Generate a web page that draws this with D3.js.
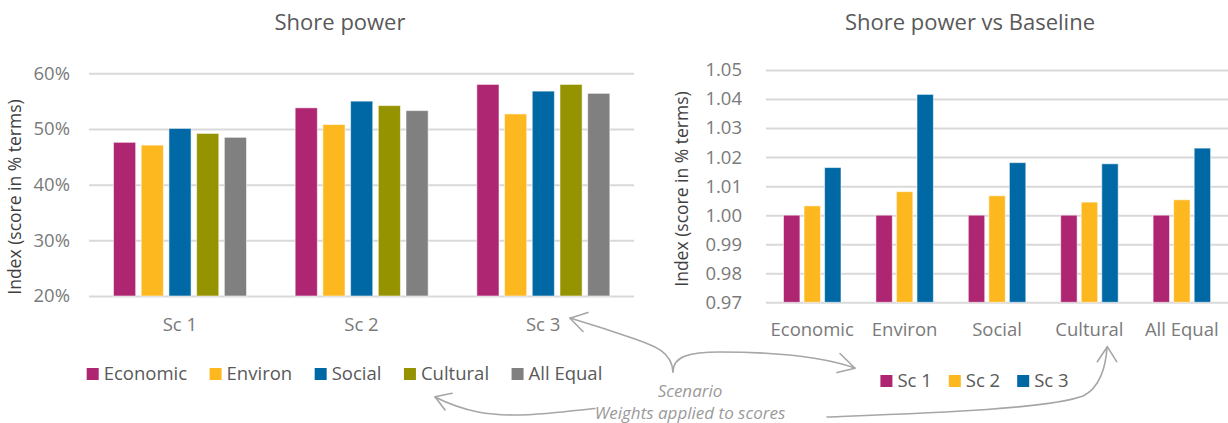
<!DOCTYPE html>
<html>
<head>
<meta charset="utf-8">
<script src="https://cdn.jsdelivr.net/npm/d3@7"></script>
<style>
  html, body { margin: 0; padding: 0; background: #ffffff; }
  svg { display: block; font-family: "Open Sans", "Noto Sans", sans-serif; }
  .tick text { fill: #7a7a7a; }
</style>
</head>
<body>
<svg id="chart" width="1228" height="423"></svg>
<script>
// Shore power: index score by scenario for each weighting scheme
const scenarios = ["Sc 1", "Sc 2", "Sc 3"];
const weightings = ["Economic", "Environ", "Social", "Cultural", "All Equal"];
const shoreEconomic = [0.476, 0.538, 0.580];
const shoreEnviron  = [0.471, 0.508, 0.527];
const shoreSocial   = [0.501, 0.550, 0.568];
const shoreCultural = [0.492, 0.542, 0.580];
const shoreAllEqual = [0.485, 0.533, 0.564];
const leftTicks = [0.2, 0.3, 0.4, 0.5, 0.6];

// Shore power relative to baseline, by weighting scheme for each scenario
const baseSc1 = [1.0000, 1.0000, 1.0000, 1.0000, 1.0000];
const baseSc2 = [1.0032, 1.0081, 1.0067, 1.0045, 1.0053];
const baseSc3 = [1.0164, 1.0416, 1.0181, 1.0177, 1.0231];
const rightTicks = [0.97, 0.98, 0.99, 1.00, 1.01, 1.02, 1.03, 1.04, 1.05];

const weightColors = ["#ae2571", "#fdb71f", "#0069a5", "#959300", "#808080"];
const scenarioColors = ["#ae2571", "#fdb71f", "#0069a5"];

const svg = d3.select("#chart");
const FONT = 18.5;

function drawPanel(opts) {
  const g = svg.append("g");
  const y = d3.scaleLinear().domain(opts.yDomain).range([opts.bottom, opts.top]);
  const x0 = d3.scaleBand().domain(opts.groups).range([opts.left, opts.right]).padding(0);
  const x1 = d3.scaleBand().domain(opts.members).range(opts.innerRange).paddingInner(0.2);

  // value axis with full-width gridlines
  const axis = d3.axisLeft(y)
    .tickValues(opts.ticks)
    .tickFormat(opts.format)
    .tickSizeInner(-(opts.right - opts.left))
    .tickSizeOuter(0)
    .tickPadding(opts.tickPad);
  const ax = g.append("g").attr("transform", `translate(${opts.left},0)`).call(axis);
  ax.select(".domain").remove();
  ax.selectAll(".tick line").attr("stroke", "#d9d9d9").attr("stroke-width", 2);
  ax.selectAll(".tick text").attr("font-size", FONT).attr("fill", "#7a7a7a")
    .style("font-family", "'Open Sans', sans-serif");

  // bars
  const groupsG = g.selectAll("g.grp").data(opts.groups).join("g")
    .attr("class", "grp")
    .attr("transform", d => `translate(${x0(d)},0)`);
  groupsG.selectAll("rect")
    .data((grp, gi) => opts.members.map((m, mi) => ({ m, mi, v: opts.series[mi][gi] })))
    .join("rect")
    .attr("x", d => x1(d.m))
    .attr("width", x1.bandwidth())
    .attr("y", d => y(d.v))
    .attr("height", d => y(opts.yDomain[0]) - y(d.v))
    .attr("fill", d => opts.colors[d.mi])
    .attr("stroke", "rgba(255,255,255,0.55)")
    .attr("stroke-width", 1);

  // category labels
  const xa = d3.axisBottom(x0).tickSize(0).tickPadding(0);
  const xg = g.append("g").attr("transform", `translate(0,${opts.catY})`).call(xa);
  xg.select(".domain").remove();
  xg.selectAll(".tick text").attr("font-size", FONT).attr("fill", "#666666")
    .attr("dy", "0.35em").style("font-family", "'Open Sans', sans-serif");

  // title
  g.append("text").attr("x", opts.titleX).attr("y", 22).attr("dy", "0.35em")
    .attr("text-anchor", "middle").attr("font-size", 22).attr("fill", "#595959")
    .text(opts.title);

  // axis title
  g.append("text")
    .attr("transform", `translate(${opts.yTitleX},${opts.yTitleY}) rotate(-90)`)
    .attr("text-anchor", "middle").attr("dy", "0.35em")
    .attr("font-size", 17.5).attr("fill", "#3f3f3f")
    .text("Index (score in % terms)");

  // legend, laid out left to right and centred
  const lg = g.append("g");
  const items = lg.selectAll("g").data(opts.members).join("g");
  items.append("rect").attr("width", 12).attr("height", 12).attr("y", -6)
    .attr("fill", (d, i) => opts.colors[i]);
  items.append("text").attr("x", 17).attr("dy", "0.35em")
    .attr("font-size", FONT).attr("fill", "#595959").text(d => d);
  let cx = 0;
  items.each(function () {
    const w = 17 + d3.select(this).select("text").node().getComputedTextLength();
    d3.select(this).attr("transform", `translate(${cx},0)`);
    cx += w + opts.legendGap;
  });
  const total = cx - opts.legendGap;
  lg.attr("transform", `translate(${opts.legendCX - total / 2},${opts.legendY})`);
}

drawPanel({
  groups: scenarios, members: weightings,
  series: [shoreEconomic, shoreEnviron, shoreSocial, shoreCultural, shoreAllEqual],
  colors: weightColors,
  yDomain: [0.2, 0.6], ticks: leftTicks, format: d3.format(".0%"),
  left: 89, right: 634, top: 73.3, bottom: 296,
  innerRange: [24.5, 157.5], tickPad: 19,
  catY: 325, title: "Shore power", titleX: 340,
  yTitleX: 15, yTitleY: 197,
  legendCX: 344.5, legendY: 374, legendGap: 22.5
});

drawPanel({
  groups: weightings, members: scenarios,
  series: [baseSc1, baseSc2, baseSc3],
  colors: scenarioColors,
  yDomain: [0.97, 1.05], ticks: rightTicks, format: d3.format(".2f"),
  left: 766, right: 1228, top: 70, bottom: 302.3,
  innerRange: [17.5, 75], tickPad: 24,
  catY: 330, title: "Shore power vs Baseline", titleX: 970,
  yTitleX: 682, yTitleY: 189,
  legendCX: 974.5, legendY: 381, legendGap: 17
});

// annotation: explanatory notes with curved arrows
const note = svg.append("g").attr("fill", "none").attr("stroke", "#a6a6a6")
  .attr("stroke-width", 1.6).attr("stroke-linecap", "round").attr("stroke-linejoin", "round");
note.append("path").attr("d", "M673,372 C672,352 655,346 635,339 C612,331 590,324 570,318");
note.append("path").attr("d", "M588,312.5 L570,318.3 L583,331.5");
note.append("path").attr("d", "M673,372 C673,356 690,352 720,352 C770,352 820,356 855,368");
note.append("path").attr("d", "M840,353.5 L855,368.3 L837,372.5");
note.append("path").attr("d", "M595,408.5 C560,412 515,419 478,412 C458,408 445,402 435,397");
note.append("path").attr("d", "M452,393.3 L435,396.7 L445,410");
note.append("path").attr("d", "M827,417 C930,413 1048,409 1083,396 C1100,388 1106,366 1107,347");
note.append("path").attr("d", "M1097.3,361.7 L1107.3,346.7 L1116.7,361.7");

const noteText = svg.append("g").attr("fill", "#9a9a9a").attr("font-style", "italic")
  .attr("font-size", 17).attr("text-anchor", "middle");
noteText.append("text").attr("x", 690).attr("y", 391.5).attr("dy", "0.35em").text("Scenario");
noteText.append("text").attr("x", 690).attr("y", 413).attr("dy", "0.35em").text("Weights applied to scores");
</script>
</body>
</html>
